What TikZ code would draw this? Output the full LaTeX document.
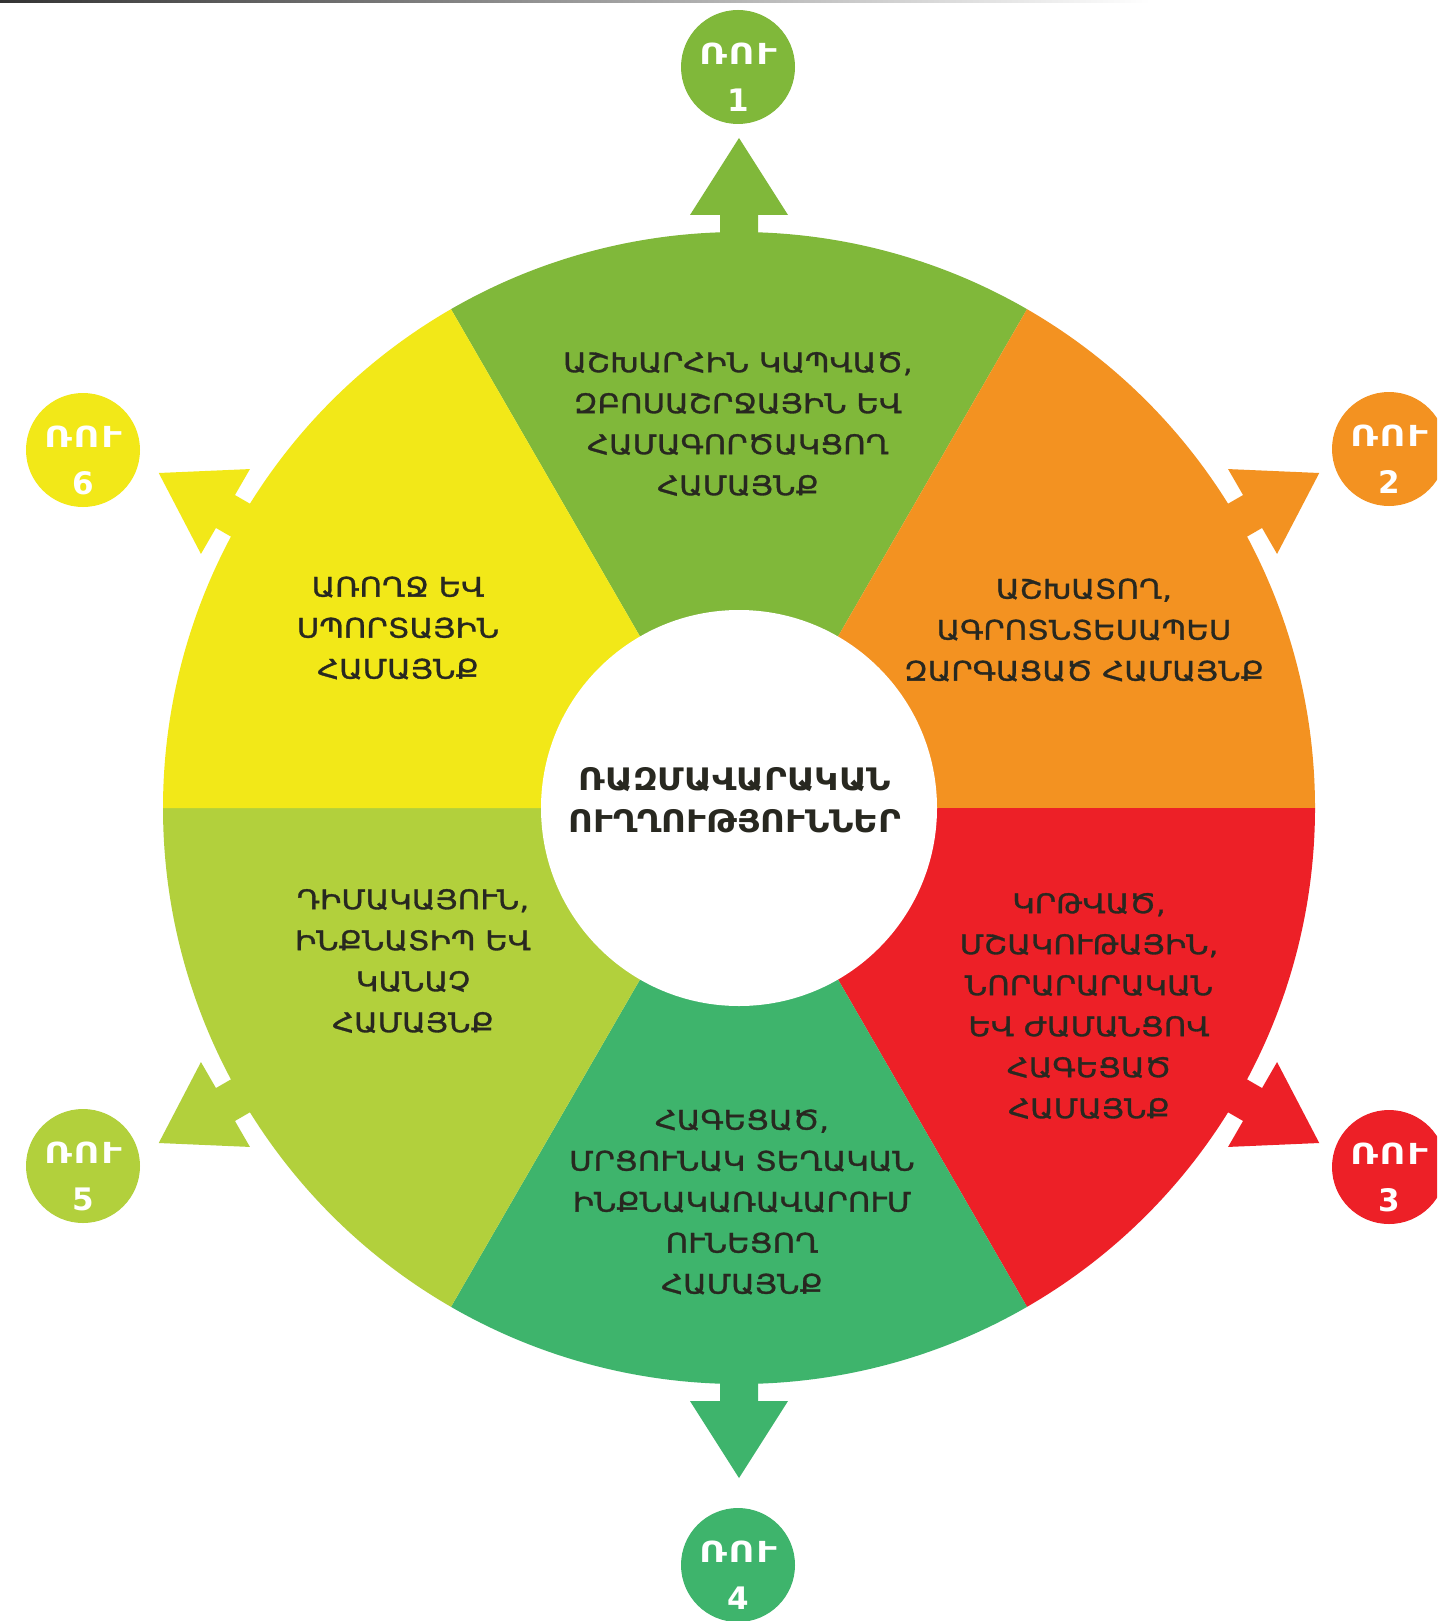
\documentclass[tikz,border=0pt]{standalone}
\usepackage{fontspec}
\setmainfont{DejaVu Sans}
\newfontfamily\segfont[FakeBold=1.2, FakeStretch=1.14]{DejaVu Sans}
\newfontfamily\hubfont[FakeStretch=1.1]{DejaVu Sans}
\newfontfamily\badgefont[FakeStretch=1.22, LetterSpace=6]{DejaVu Sans}
\usetikzlibrary{calc}
\definecolor{cgreen}{RGB}{128,184,58}
\definecolor{corange}{RGB}{243,146,33}
\definecolor{cred}{RGB}{237,32,39}
\definecolor{cdgreen}{RGB}{62,180,108}
\definecolor{clgreen}{RGB}{178,208,60}
\definecolor{cyellow}{RGB}{242,232,24}
\definecolor{ctext}{RGB}{40,40,32}
\tikzset{
  seglabel/.style={align=center, text=ctext, font=\segfont\fontsize{27}{41}\selectfont, inner sep=0pt},
  centrelabel/.style={align=center, text=ctext, font=\hubfont\bfseries\fontsize{31}{42}\selectfont, inner sep=0pt},
  badge/.style={circle, minimum size=114pt, inner sep=0pt},
  badgetop/.style={text=white, font=\badgefont\bfseries\fontsize{29}{30}\selectfont, inner sep=0pt},
  badgenum/.style={text=white, font=\bfseries\fontsize{31}{32}\selectfont, inner sep=0pt},
}
\newcommand\wheelsector[3]{\fill[#3] (C) -- ($(C)+(#1:576)$) arc[start angle=#1, end angle=#2, radius=576] -- cycle;}
\newcommand\wheelarrow[2]{%
  \fill[#2] ($(C)+(#1:560)+(#1+90:19)$) -- ($(C)+(#1:593)+(#1+90:19)$) -- ($(C)+(#1:593)+(#1+90:49)$)
   -- ($(C)+(#1:670)$) -- ($(C)+(#1:593)+(#1-90:49)$) -- ($(C)+(#1:593)+(#1-90:19)$)
   -- ($(C)+(#1:560)+(#1-90:19)$) -- cycle;}
\newcommand\ruubadge[4]{% name, position, colour, number
  \node[badge, fill=#3] (#1) at #2 {};
  \node[badgetop] (#1t) at ($(#1)+(0,-13)$) {ՌՈՒ};
  \node[badgenum] (#1n) at ($(#1)+(0,33)$) {#4};}
\begin{document}
\begin{tikzpicture}[x=1pt, y=-1pt]
\path[use as bounding box] (0,0) rectangle (1437,1621);
\clip (0,0) rectangle (1437,1621);
\fill[white] (0,0) rectangle (1437,1621);
\shade[left color=black!80, right color=white] (0,0) rectangle (1150,3);
\coordinate (C) at (739,808);
% arrows
\wheelarrow{-90}{cgreen}
\wheelarrow{-30}{corange}
\wheelarrow{30}{cred}
\wheelarrow{90}{cdgreen}
\wheelarrow{150}{clgreen}
\wheelarrow{210}{cyellow}
% sectors
\wheelsector{-120}{-60}{cgreen}
\wheelsector{-60}{0}{corange}
\wheelsector{0}{60}{cred}
\wheelsector{60}{120}{cdgreen}
\wheelsector{120}{180}{clgreen}
\wheelsector{180}{240}{cyellow}
% centre
\node[circle, fill=white, minimum size=396pt, inner sep=0pt] (hub) at (C) {};
\node[centrelabel] (hubtext) at (735,800) {ՌԱԶՄԱՎԱՐԱԿԱՆ\\ՈՒՂՂՈՒԹՅՈՒՆՆԵՐ};
% segment texts
\node[seglabel] (s1) at (738,424) {ԱՇԽԱՐՀԻՆ ԿԱՊՎԱԾ,\\ԶԲՈՍԱՇՐՋԱՅԻՆ ԵՎ\\ՀԱՄԱԳՈՐԾԱԿՑՈՂ\\ՀԱՄԱՅՆՔ};
\node[seglabel] (s2) at (1084,630) {ԱՇԽԱՏՈՂ,\\ԱԳՐՈՏՆՏԵՍԱՊԵՍ\\ԶԱՐԳԱՑԱԾ ՀԱՄԱՅՆՔ};
\node[seglabel] (s3) at (1089,1006) {ԿՐԹՎԱԾ,\\ՄՇԱԿՈՒԹԱՅԻՆ,\\ՆՈՐԱՐԱՐԱԿԱՆ\\ԵՎ ԺԱՄԱՆՑՈՎ\\ՀԱԳԵՑԱԾ\\ՀԱՄԱՅՆՔ};
\node[seglabel] (s4) at (742,1202) {ՀԱԳԵՑԱԾ,\\ՄՐՑՈՒՆԱԿ ՏԵՂԱԿԱՆ\\ԻՆՔՆԱԿԱՌԱՎԱՐՈՒՄ\\ՈՒՆԵՑՈՂ\\ՀԱՄԱՅՆՔ};
\node[seglabel] (s5) at (413,961) {ԴԻՄԱԿԱՅՈՒՆ,\\ԻՆՔՆԱՏԻՊ ԵՎ\\ԿԱՆԱՉ\\ՀԱՄԱՅՆՔ};
\node[seglabel] (s6) at (398,628) {ԱՌՈՂՋ ԵՎ\\ՍՊՈՐՏԱՅԻՆ\\ՀԱՄԱՅՆՔ};
% badges
\ruubadge{b1}{(738,67)}{cgreen}{1}
\ruubadge{b2}{(1389,449)}{corange}{2}
\ruubadge{b3}{(1389,1167)}{cred}{3}
\ruubadge{b4}{(738,1565)}{cdgreen}{4}
\ruubadge{b5}{(83,1166)}{clgreen}{5}
\ruubadge{b6}{(83,450)}{cyellow}{6}
\end{tikzpicture}
\end{document}
